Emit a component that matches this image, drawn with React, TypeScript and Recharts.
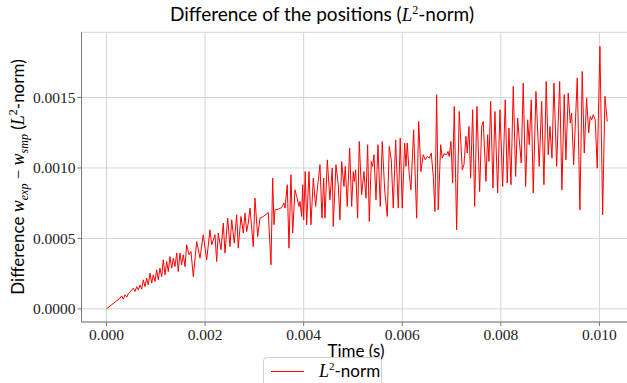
import { LineChart, Line, XAxis, YAxis, CartesianGrid } from "recharts";

// time in ms, difference in units of 1e-4
const timeMs = [
  0, 0.274, 0.308, 0.341, 0.375, 0.41, 0.442, 0.544, 0.578, 0.613, 0.645, 0.68, 0.714, 0.746, 0.781, 0.815,
  0.848, 0.882, 0.917, 0.949, 0.984, 1.018, 1.051, 1.085, 1.12, 1.152, 1.187, 1.221, 1.254, 1.288, 1.323,
  1.355, 1.389, 1.424, 1.456, 1.491, 1.525, 1.558, 1.592, 1.627, 1.673, 1.714, 1.761, 1.83, 1.897, 1.963,
  2.032, 2.099, 2.134, 2.201, 2.235, 2.268, 2.323, 2.369, 2.404, 2.458, 2.505, 2.54, 2.592, 2.641, 2.673,
  2.728, 2.775, 2.809, 2.844, 2.876, 2.911, 2.978, 3.012, 3.067, 3.114, 3.181, 3.282, 3.337, 3.371, 3.398,
  3.418, 3.485, 3.554, 3.6, 3.621, 3.667, 3.702, 3.742, 3.777, 3.824, 3.858, 3.905, 3.925, 3.959, 3.98,
  4.0, 4.032, 4.061, 4.108, 4.148, 4.195, 4.243, 4.276, 4.331, 4.371, 4.406, 4.432, 4.479, 4.533, 4.58,
  4.6, 4.655, 4.702, 4.736, 4.771, 4.817, 4.844, 4.884, 4.933, 4.974, 5.006, 5.026, 5.055, 5.095, 5.128,
  5.176, 5.223, 5.264, 5.298, 5.331, 5.371, 5.4, 5.426, 5.467, 5.507, 5.554, 5.594, 5.643, 5.696, 5.736,
  5.777, 5.817, 5.866, 5.919, 5.959, 6.0, 6.049, 6.075, 6.101, 6.142, 6.176, 6.231, 6.292, 6.333, 6.379,
  6.426, 6.466, 6.507, 6.548, 6.588, 6.629, 6.663, 6.698, 6.73, 6.779, 6.811, 6.846, 6.901, 6.927, 6.953,
  6.988, 7.022, 7.055, 7.103, 7.156, 7.217, 7.252, 7.292, 7.318, 7.353, 7.387, 7.428, 7.469, 7.515, 7.57,
  7.611, 7.643, 7.698, 7.732, 7.759, 7.793, 7.84, 7.88, 7.935, 7.982, 8.037, 8.089, 8.13, 8.164, 8.205,
  8.252, 8.3, 8.341, 8.373, 8.414, 8.454, 8.503, 8.544, 8.576, 8.617, 8.657, 8.712, 8.779, 8.828, 8.874,
  8.921, 8.961, 8.996, 9.037, 9.077, 9.132, 9.193, 9.239, 9.286, 9.32, 9.367, 9.408, 9.436, 9.477, 9.55,
  9.604, 9.651, 9.692, 9.74, 9.781, 9.813, 9.842, 9.874, 9.915, 9.955, 10.01, 10.065, 10.112, 10.158,
];
const diffE4 = [
  0, 0.76, 0.92, 0.69, 0.99, 0.83, 1.07, 1.47, 1.23, 1.58, 1.35, 1.7, 1.4, 2.06, 1.58, 2.18,
  1.7, 2.54, 1.83, 2.41, 1.94, 2.77, 2.06, 2.89, 2.29, 3.48, 2.41, 3.36, 2.65, 3.71, 2.89,
  3.6, 3.0, 3.96, 2.65, 3.96, 3.13, 3.84, 3.0, 4.55, 3.84, 4.07, 2.29, 4.78, 3.6, 5.26,
  3.48, 5.61, 4.55, 5.26, 3.36, 5.38, 4.19, 6.09, 3.96, 6.44, 4.42, 6.32, 4.67, 6.68, 4.31,
  6.56, 5.38, 6.8, 5.49, 6.09, 7.15, 4.42, 7.86, 5.13, 6.44, 6.56, 6.84, 3.13, 9.28, 5.97,
  7.03, 7.08, 7.19, 7.51, 7.15, 8.81, 4.31, 9.52, 5.38, 8.45, 7.98, 7.27, 7.62, 6.56, 8.81,
  6.32, 9.75, 5.97, 9.75, 5.97, 9.28, 7.27, 8.45, 10.23, 6.44, 9.28, 6.44, 10.58, 7.74, 9.99,
  5.85, 10.23, 8.81, 6.32, 10.46, 8.69, 10.11, 7.27, 11.41, 7.27, 9.75, 9.04, 9.87, 6.44, 11.88,
  8.1, 9.75, 7.86, 11.65, 6.2, 10.46, 10.11, 10.94, 7.74, 11.65, 7.27, 11.88, 8.45, 6.56, 11.53,
  10.58, 7.15, 12.0, 7.15, 12.12, 7.15, 11.77, 10.11, 11.77, 9.52, 8.45, 12.71, 6.44, 13.3, 9.75,
  10.94, 10.58, 10.82, 10.7, 11.06, 9.4, 6.91, 15.2, 7.03, 11.65, 10.7, 11.01, 10.94, 11.17, 10.82,
  11.88, 8.93, 14.37, 5.61, 14.01, 9.87, 10.23, 12.24, 11.06, 12.95, 9.28, 14.13, 7.27, 14.37, 8.33,
  12.95, 13.3, 9.04, 12.36, 10.46, 14.72, 8.57, 14.01, 8.22, 14.13, 8.69, 14.84, 8.93, 12.83, 8.81,
  15.79, 9.4, 13.54, 12.0, 10.35, 16.03, 8.69, 13.42, 11.65, 14.84, 8.22, 15.43, 10.11, 14.72, 8.81,
  16.14, 10.94, 12.95, 10.7, 16.03, 10.11, 16.14, 8.45, 15.2, 10.58, 15.32, 13.19, 13.9, 10.23, 16.39,
  7.03, 16.85, 11.06, 14.96, 12.48, 13.66, 13.42, 13.78, 13.42, 9.99, 18.63, 6.68, 15.08, 13.3,
];

const xTicks = [0, 0.002, 0.004, 0.006, 0.008, 0.01];
const yTicks = [0, 0.0005, 0.001, 0.0015];

const data = timeMs.map((t, i) => ({ time: t / 1000, diff: diffE4[i] / 10000 }));

const sans = "Lato, 'Liberation Sans', sans-serif";
const serif = "'Liberation Serif', 'DejaVu Serif', serif";

function YLabel() {
  return (
    <text transform="translate(24,177) rotate(-90)" textAnchor="middle" fontFamily={sans} fontSize={17} fill="#000">
      <tspan>Difference </tspan>
      <tspan fontFamily={serif} fontStyle="italic" fontSize={18}>w</tspan>
      <tspan fontFamily={serif} fontStyle="italic" fontSize={12} dy={4}>exp</tspan>
      <tspan fontFamily={serif} fontSize={17} dy={-4}> − </tspan>
      <tspan fontFamily={serif} fontStyle="italic" fontSize={18}>w</tspan>
      <tspan fontFamily={serif} fontStyle="italic" fontSize={12} dy={4}>smp</tspan>
      <tspan dy={-4}> (</tspan>
      <tspan fontFamily={serif} fontStyle="italic" fontSize={18}>L</tspan>
      <tspan fontFamily={serif} fontSize={12} dy={-7}>2</tspan>
      <tspan dy={7}>-norm)</tspan>
    </text>
  );
}

export default function App() {
  return (
    <div style={{ position: "absolute", left: 0, top: 0, width: 627, height: 383, overflow: "hidden", background: "#fff" }}>
      <div style={{ position: "absolute", left: 122, top: 2, width: 400, textAlign: "center", fontFamily: sans, fontSize: 19, color: "#000" }}>
        Difference of the positions (<span style={{ fontFamily: serif, fontStyle: "italic" }}>L</span>
        <sup style={{ fontFamily: serif, fontSize: 12 }}>2</sup>-norm)
      </div>
      <LineChart width={640} height={383} data={data} margin={{ top: 32.3, right: 10, left: 0, bottom: 31 }}>
        <CartesianGrid stroke="#d4d4d4" strokeWidth={1} />
        <XAxis
          dataKey="time"
          type="number"
          domain={[-0.000507, 0.01062]}
          allowDataOverflow
          ticks={xTicks}
          tickFormatter={(v: number) => v.toFixed(3)}
          tick={{ fontFamily: serif, fontSize: 15.5, fill: "#222" }}
          tickSize={4}
          tickMargin={3}
          height={30}
          stroke="#777"
        />
        <XAxis xAxisId="top" orientation="top" type="number" dataKey="time" domain={[-0.000507, 0.01062]} allowDataOverflow height={0} tick={false} tickLine={false} stroke="#999" />
        <YAxis
          type="number"
          domain={[-0.0000932, 0.001963]}
          allowDataOverflow
          ticks={yTicks}
          tickFormatter={(v: number) => v.toFixed(4)}
          tick={{ fontFamily: serif, fontSize: 15.5, fill: "#222" }}
          tickSize={4}
          tickMargin={2}
          width={81.5}
          stroke="#777"
          label={<YLabel />}
        />
        <Line type="linear" dataKey="diff" stroke="#ff0000" strokeWidth={1} dot={false} isAnimationActive={false} />
      </LineChart>
      <div style={{ position: "absolute", left: 256, top: 340, width: 200, textAlign: "center", fontFamily: sans, fontSize: 17, color: "#000" }}>
        Time (s)
      </div>
      <div
        style={{
          position: "absolute", left: 263, top: 357, width: 119, height: 30, boxSizing: "border-box",
          border: "1px solid #d0d0d0", borderRadius: 4, background: "#fff",
        }}
      >
        <div style={{ position: "absolute", left: 7, top: 13, width: 33, height: 0, borderTop: "1.2px solid #ff0000" }} />
        <div style={{ position: "absolute", left: 55, top: 2, fontFamily: sans, fontSize: 17, color: "#000", whiteSpace: "nowrap" }}>
          <span style={{ fontFamily: serif, fontStyle: "italic", fontSize: 18 }}>L</span>
          <sup style={{ fontFamily: serif, fontSize: 11 }}>2</sup>-norm
        </div>
      </div>
    </div>
  );
}
